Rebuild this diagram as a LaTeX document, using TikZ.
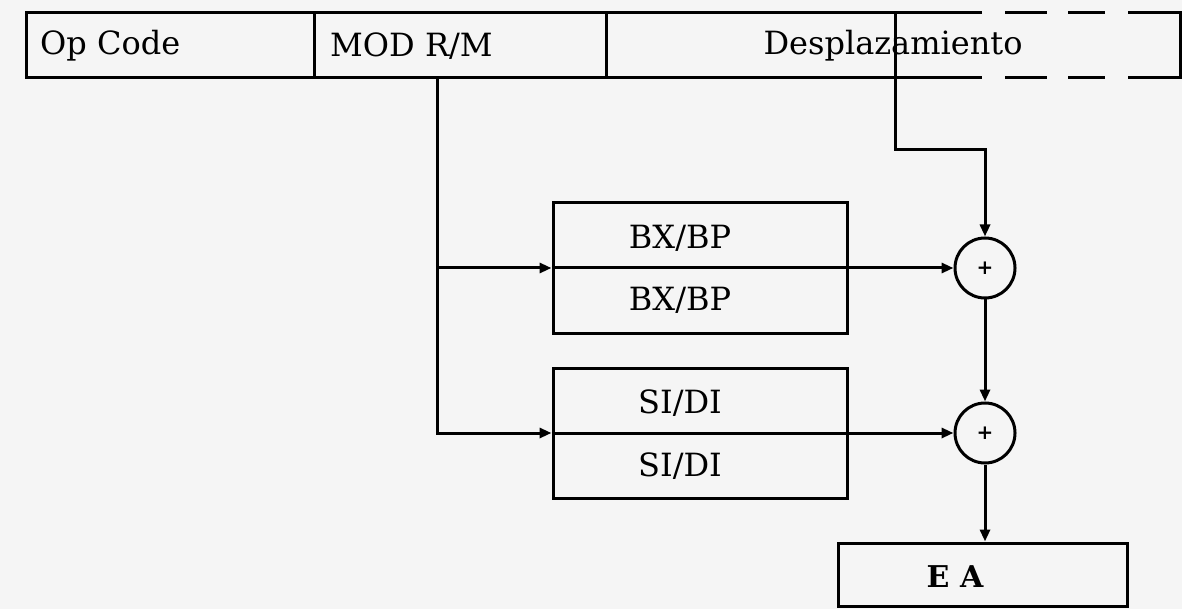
\documentclass[tikz,border=0pt]{standalone}
\usepackage{fontspec}
\setmainfont{DejaVu Serif}
\usetikzlibrary{arrows.meta,calc}
\tikzset{
  ln/.style={line width=3pt, line cap=butt},
  arr/.style={ln, -{Triangle[length=12pt,width=10pt]}},
  lbl/.style={inner sep=0pt, font=\fontsize{32}{34}\selectfont},
  regbox/.style={ln, draw, minimum width=294pt, minimum height=130pt, inner sep=0pt},
  sumnode/.style={ln, draw, circle, minimum size=60pt, inner sep=0pt, font=\bfseries\fontsize{20}{20}\selectfont},
  eabox/.style={ln, draw, minimum width=289pt, minimum height=63pt, inner sep=0pt}
}
\begin{document}
\begin{tikzpicture}[x=1pt,y=-1pt]
\fill[white!96!black] (0,0) rectangle (1182,609);
\useasboundingbox (0,0) rectangle (1182,609);
% instruction bar
\draw[ln] (982,13) -- (26,13) -- (26,78) -- (982,78);
\draw[ln] (314,13) -- (314,78);
\draw[ln] (606,13) -- (606,78);
\draw[ln] (1005,13) -- (1047,13) (1068,13) -- (1105,13);
\draw[ln] (1005,78) -- (1047,78) (1068,78) -- (1105,78);
\draw[ln] (1128,13) -- (1180,13) -- (1180,78) -- (1128,78);
\node[lbl, anchor=west] (opc) at (40,46) {Op Code};
\node[lbl, anchor=west] (mod) at (330,46) {MOD R/M};
\node[lbl] (disp) at (893,46) {Desplazamiento};
\coordinate (modtap) at (437,78);
\coordinate (disptap) at (895,13);
\coordinate (dispbend) at (895,150);
% registers
\node[regbox] (bx) at (700,268) {};
\node[lbl] (bxa) at (680,238) {BX/BP};
\node[lbl] (bxb) at (680,300) {BX/BP};
\node[regbox] (si) at (700,433) {};
\node[lbl] (sia) at (680,403) {SI/DI};
\node[lbl] (sib) at (680,466) {SI/DI};
% adders
\node[sumnode] (c1) at (985,268) {+};
\node[sumnode] (c2) at (985,433) {+};
% result
\node[eabox] (ea) at (982.5,574.5) {};
\node[lbl, font=\bfseries\fontsize{30}{32}\selectfont] (eat) at (955,577) {E A};
% connectors
\draw[arr] (modtap) |- (si.west);
\draw[arr] (modtap |- bx.west) -- (bx.west);
\draw[arr] (bx.west) -- (c1.west);
\draw[arr] (si.west) -- (c2.west);
\draw[arr] (disptap) -- (dispbend) -| (c1.north);
\draw[arr] (c1.south) -- (c2.north);
\draw[arr] (c2.south) -- (c2.south |- ea.north);
\end{tikzpicture}
\end{document}
